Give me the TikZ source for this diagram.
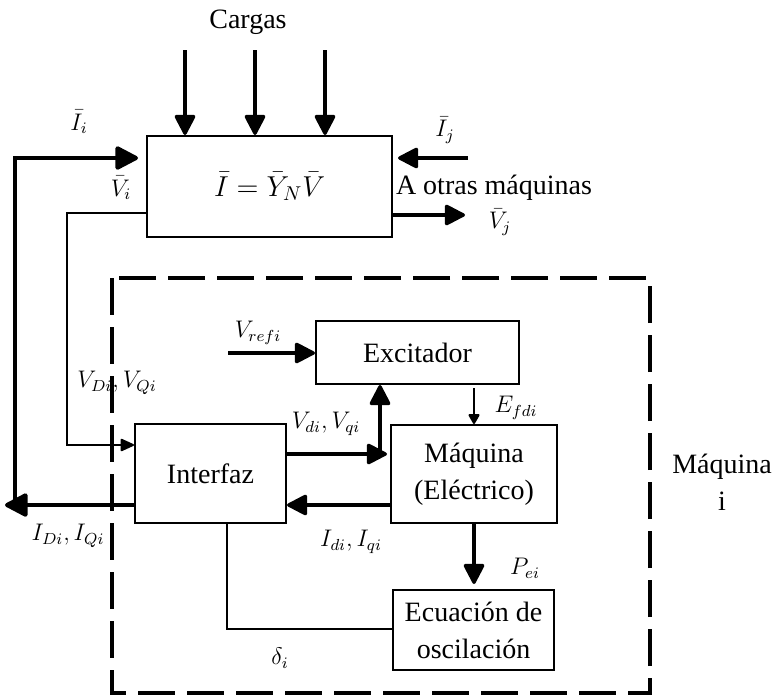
\documentclass[tikz,border=0pt]{standalone}
\usepackage{fontspec}
\setmainfont{Liberation Serif}
\usetikzlibrary{arrows.meta}

\tikzset{
  blk/.style={draw, line width=1pt, align=center, inner sep=0pt, font=\fontsize{14}{18.5}\selectfont},
  txt/.style={align=center, inner sep=0pt, font=\fontsize{14}{18.5}\selectfont},
  lbl/.style={inner sep=0pt, font=\fontsize{12}{14}\selectfont},
  thk/.style={line width=2pt, -{Triangle[length=12.5pt,width=12.5pt,round]}},
  med/.style={line width=1.6pt, -{Triangle[length=11pt,width=11pt,round]}},
  thn/.style={line width=1pt},
}

\begin{document}
\begin{tikzpicture}[x=0.5pt,y=-0.5pt]
        \useasboundingbox (0,0) rectangle (774,696);

        % machine i frame
        \draw[line width=2pt, dash pattern=on 18.5pt off 6pt] (112,278) rectangle (650,693);

        \node[blk, minimum width=122.5pt, minimum height=50.5pt] (red) at (269.5,186.5) {$\bar{I}=\bar{Y}_N\bar{V}$};
        \node[blk, minimum width=101.5pt, minimum height=31.5pt] (exc) at (417.5,352.5) {Excitador};
        \node[blk, minimum width=75.5pt, minimum height=49.5pt] (intf) at (210.5,473.5) {Interfaz};
        \node[blk, minimum width=83pt, minimum height=49pt] (maq) at (474,474) {Máquina\\(Eléctrico)};
        \node[blk, minimum width=80.5pt, minimum height=40pt] (osc) at (473.5,630) {Ecuación de\\oscilación};

        % loads
        \node[txt] (cargas) at (248,22) {Cargas};
        \foreach \i/\x in {1/185,2/255,3/325} {
            \coordinate (c\i) at (\x,50);
            \draw[med] (c\i) -- (c\i |- red.north);
        }

        % network side
        \coordinate (ret) at (15,158);
        \coordinate (out) at (5,505);
        \coordinate (vi) at (67,213);
        \coordinate (vd) at (67,445);
        \draw[thk] (intf.west |- out) -- (out);
        \draw[thk, shorten >=4pt] (ret |- out) -- (ret) -- (red.west |- ret);
        \draw[thn, -{Triangle[length=7.5pt,width=6.5pt,round]}] (red.west |- vi) -- (vi) -- (vd) -- (intf.west |- vd);

        \coordinate (ij) at (468,158);
        \coordinate (vj) at (465,215);
        \draw[med, shorten >=2.5pt] (ij) -- (red.east |- ij);
        \draw[med] (red.east |- vj) -- (vj);
        \node[txt] (otras) at (494,188) {A otras máquinas};

        % inside the machine
        \coordinate (vr) at (228,353);
        \coordinate (vq) at (380,454);
        \coordinate (iq) at (300,505);
        \coordinate (dl) at (227,629);
        \draw[med] (vr) -- (exc.west |- vr);
        \draw[med, shorten >=1.5pt] (intf.east |- vq) -- (maq.west |- vq);
        \draw[med] (vq) -- (vq |- exc.south);
        \draw[thn, shorten <=1.5pt, -{Triangle[length=5.5pt,width=6pt,round]}] (exc.south -| maq.north) -- (maq.north);
        \draw[med] (maq.west |- iq) -- (intf.east |- iq);
        \draw[med, shorten >=2.5pt] (maq.south) -- (maq.south |- osc.north);
        \draw[thn] (intf.south -| dl) -- (dl) -- (osc.west |- dl);

        % labels
        \node[lbl] (li) at (79,122) {$\bar{I}_i$};
        \node[lbl] (lvi) at (121,188) {$\bar{V}_i$};
        \node[lbl] (lij) at (445,130) {$\bar{I}_j$};
        \node[lbl] (lvj) at (500,222) {$\bar{V}_j$};
        \node[lbl] (lvref) at (258,333) {$V_{refi}$};
        \node[lbl] (lvDQ) at (117,383) {$V_{Di},V_{Qi}$};
        \node[lbl] (lvdq) at (326,424) {$V_{di},V_{qi}$};
        \node[lbl] (lefd) at (516,408) {$E_{fdi}$};
        \node[lbl] (lidq) at (351,542) {$I_{di},I_{qi}$};
        \node[lbl] (liDQ) at (68,536) {$I_{Di},I_{Qi}$};
        \node[lbl] (lpe) at (525,568) {$P_{ei}$};
        \node[lbl] (ldelta) at (280,658) {$\delta_i$};
        \node[txt] (maqi) at (722,482) {Máquina\\i};
\end{tikzpicture}
\end{document}
